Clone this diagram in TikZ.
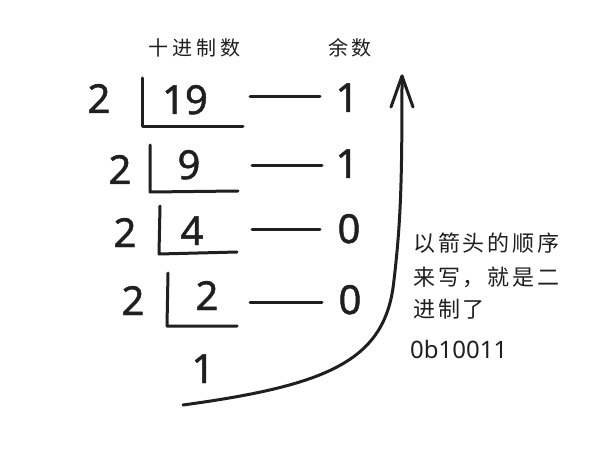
\documentclass[tikz,border=0pt]{standalone}
\usepackage{fontspec}
\setmainfont{Noto Sans}
\newfontfamily\cjkfont{Noto Sans CJK SC}
\begin{document}
\begin{tikzpicture}[x=1pt,y=-1pt,
  ink/.style={line width=3pt,line cap=round,line join=round,color=black!88},
  digit/.style={inner sep=0pt,anchor=base,font=\fontsize{40}{40}\selectfont\addfontfeature{FakeBold=1.2},text=black!88},
  head/.style={inner sep=0pt,anchor=west,text=black!88},
  note/.style={inner sep=0pt,anchor=west,text=black!88,font=\cjkfont\fontsize{22}{22}\selectfont\addfontfeature{LetterSpace=13}}]
\useasboundingbox[fill=white] (0,0) rectangle (610,465);
% headers
\node[head,font=\cjkfont\fontsize{20}{20}\selectfont\addfontfeature{LetterSpace=21}] (hdec) at (148,48) {十进制数};
\node[head,font=\cjkfont\fontsize{20}{20}\selectfont\addfontfeature{LetterSpace=17}] (hrem) at (328,48) {余数};
% row 1
\node[digit] (d1) at (99,113) {2};
\node[digit] (n1) at (185,114) {19};
\node[digit] (r1) at (347,112) {1};
\coordinate (v1t) at (142,78); \coordinate (v1b) at (142,127); \coordinate (h1e) at (243,127);
\draw[ink] (v1t) -- (v1b) -- (h1e);
\coordinate (a1) at (250,97); \coordinate (b1) at (320,97);
\draw[ink] (a1) -- (b1);
% row 2
\node[digit] (d2) at (120,184) {2};
\node[digit] (n2) at (189,179) {9};
\node[digit] (r2) at (347,178) {1};
\coordinate (v2t) at (150,145); \coordinate (v2b) at (150,192); \coordinate (h2e) at (238,191);
\draw[ink] (v2t) -- (v2b) -- (h2e);
\coordinate (a2) at (252,166); \coordinate (b2) at (322,166);
\draw[ink] (a2) -- (b2);
% row 3
\node[digit] (d3) at (125,247) {2};
\node[digit] (n3) at (192,245) {4};
\node[digit] (r3) at (349,243) {0};
\coordinate (v3t) at (160,206); \coordinate (v3b) at (159,254); \coordinate (h3e) at (237,252);
\draw[ink] (v3t) -- (v3b) -- (h3e);
\coordinate (a3) at (252,229); \coordinate (b3) at (320,229);
\draw[ink] (a3) -- (b3);
% row 4
\node[digit] (d4) at (133,315) {2};
\node[digit] (n4) at (207,310) {2};
\node[digit] (r4) at (350,314) {0};
\coordinate (v4t) at (168,273); \coordinate (v4b) at (167,326); \coordinate (h4e) at (237,326);
\draw[ink] (v4t) -- (v4b) -- (h4e);
\coordinate (a4) at (250,302); \coordinate (b4) at (322,302);
\draw[ink] (a4) -- (b4);
% quotient
\node[digit] (q) at (203,383) {1};
% arrow
\coordinate (cs) at (183,405);
\coordinate (cm) at (394,280);
\coordinate (tip) at (402,76);
\coordinate (hl) at (391,107);
\coordinate (hr) at (413,107);
\draw[ink] (cs) .. controls (330,385) and (386,360) .. (cm) .. controls (401,220) and (402,180) .. (tip);
\draw[ink] (hl) -- (tip) -- (hr);
% note
\node[note] (l1) at (413,243) {以箭头的顺序};
\node[note] (l2) at (413,277) {来写，就是二};
\node[note] (l3) at (413,309) {进制了};
\node[inner sep=0pt,anchor=base west,text=black!88,font=\fontsize{24}{24}\selectfont] (bin) at (410,358) {0b10011};
\end{tikzpicture}
\end{document}
